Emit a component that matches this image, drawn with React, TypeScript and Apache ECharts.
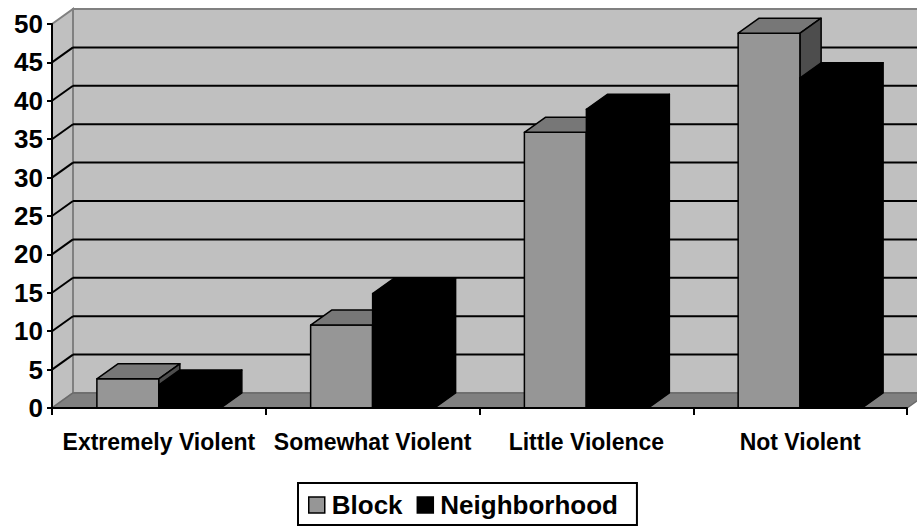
import React, { useEffect, useRef } from "react";
import * as echarts from "echarts";

const categories = ["Extremely Violent", "Somewhat Violent", "Little Violence", "Not Violent"];
const blockValues = [3.8, 10.8, 35.9, 48.8];
const neighborhoodValues = [3.0, 14.9, 38.9, 43.0];
const gridValues = [5, 10, 15, 20, 25, 30, 35, 40, 45];
const seriesNames = ["Block", "Neighborhood"];

const DX = 21;
const DY = -15;
const FONT = "'Liberation Sans', Arial, sans-serif";

function barRenderer(seriesIdx: number, front: string, top: string, side: string) {
  return (params: any, api: any) => {
    const ci = api.value(0);
    const v = api.value(1);
    const base = api.coord([ci, 0]);
    const tp = api.coord([ci, v]);
    const catW = api.size([1, 0])[0];
    const w = catW * 0.29;
    const x0 = base[0] - w + seriesIdx * w;
    const x1 = x0 + w;
    const yb = base[1];
    const yt = tp[1];
    const stroke = { stroke: "#000", lineWidth: 1.5, lineJoin: "round" };
    return {
      type: "group",
      children: [
        {
          type: "polygon",
          shape: { points: [[x0, yb], [x1, yb], [x1, yt], [x0, yt]] },
          style: { fill: front, ...stroke },
        },
        {
          type: "polygon",
          shape: { points: [[x0, yt], [x0 + DX, yt + DY], [x1 + DX, yt + DY], [x1, yt]] },
          style: { fill: top, ...stroke },
        },
        {
          type: "polygon",
          shape: { points: [[x1, yb], [x1 + DX, yb + DY], [x1 + DX, yt + DY], [x1, yt]] },
          style: { fill: side, ...stroke },
        },
      ],
    };
  };
}

function wallRenderer(params: any, api: any) {
  const cs = params.coordSys;
  const x0 = cs.x;
  const x1 = cs.x + cs.width;
  const yT = cs.y;
  const yB = cs.y + cs.height;
  const children: any[] = [
    {
      type: "polygon",
      shape: { points: [[x0 + DX, yT + DY], [x1 + DX, yT + DY], [x1 + DX, yB + DY], [x0 + DX, yB + DY]] },
      style: { fill: "#C0C0C0", stroke: "#808080", lineWidth: 2 },
    },
    {
      type: "polygon",
      shape: { points: [[x0, yT], [x0 + DX, yT + DY], [x0 + DX, yB + DY], [x0, yB]] },
      style: { fill: "#C0C0C0", stroke: "#808080", lineWidth: 2 },
    },
    {
      type: "polygon",
      shape: { points: [[x0, yB], [x0 + DX, yB + DY], [x1 + DX, yB + DY], [x1, yB]] },
      style: { fill: "#808080", stroke: "#6a6a6a", lineWidth: 1.5 },
    },
  ];
  gridValues.forEach((g) => {
    const y = api.coord([0, g])[1];
    children.push({
      type: "line",
      shape: { x1: x0 + DX, y1: y + DY, x2: x1 + DX, y2: y + DY },
      style: { stroke: "#000", lineWidth: 2 },
    });
    children.push({
      type: "line",
      shape: { x1: x0, y1: y, x2: x0 + DX, y2: y + DY },
      style: { stroke: "#000", lineWidth: 2 },
    });
  });
  return { type: "group", children };
}

export default function App() {
  const ref = useRef<HTMLDivElement>(null);
  useEffect(() => {
    if (!ref.current) return;
    const chart = echarts.init(ref.current, undefined, { renderer: "svg" });
    chart.setOption({
      animation: false,
      backgroundColor: "#fff",
      textStyle: { fontFamily: FONT },
      grid: { left: 52, right: 10, top: 24, bottom: 119, containLabel: false },
      xAxis: {
        type: "category",
        data: categories,
        z: 10,
        axisLine: { lineStyle: { color: "#000", width: 2 } },
        axisTick: { show: true, length: 7, lineStyle: { color: "#000", width: 2 } },
        axisLabel: {
          margin: 22,
          color: "#000",
          fontFamily: FONT,
          fontWeight: "bold",
          fontSize: 23,
          interval: 0,
        },
        splitLine: { show: false },
      },
      yAxis: {
        type: "value",
        min: 0,
        max: 50,
        interval: 5,
        z: 10,
        axisLine: { show: true, lineStyle: { color: "#000", width: 2 } },
        axisTick: { show: true, length: 5, lineStyle: { color: "#000", width: 2 } },
        axisLabel: {
          margin: 9,
          color: "#000",
          fontFamily: FONT,
          fontWeight: "bold",
          fontSize: 26,
        },
        splitLine: { show: false },
      },
      legend: {
        left: 298,
        top: 483,
        orient: "horizontal",
        icon: "rect",
        itemWidth: 16,
        itemHeight: 16,
        itemGap: 14,
        padding: [9, 19, 7, 10],
        borderColor: "#000",
        borderWidth: 2,
        textStyle: { color: "#000", fontFamily: FONT, fontWeight: "bold", fontSize: 26, padding: [0, 0, 0, 2] },
        data: [
          { name: seriesNames[0], itemStyle: { color: "#969696", borderColor: "#000", borderWidth: 1.5 } },
          { name: seriesNames[1], itemStyle: { color: "#000", borderColor: "#000", borderWidth: 1.5 } },
        ],
      },
      series: [
        {
          type: "custom",
          name: "walls",
          z: 1,
          silent: true,
          renderItem: wallRenderer,
          data: [[0, 0]],
        },
        {
          type: "custom",
          name: seriesNames[0],
          z: 2,
          itemStyle: { color: "#969696" },
          renderItem: barRenderer(0, "#969696", "#777777", "#4D4D4D"),
          data: blockValues.map((v, i) => [i, v]),
        },
        {
          type: "custom",
          name: seriesNames[1],
          z: 3,
          itemStyle: { color: "#000" },
          renderItem: barRenderer(1, "#000", "#000", "#000"),
          data: neighborhoodValues.map((v, i) => [i, v]),
        },
      ],
    });
    return () => chart.dispose();
  }, []);
  return <div ref={ref} style={{ width: 917, height: 527, position: "absolute", left: 0, top: 0 }} />;
}
